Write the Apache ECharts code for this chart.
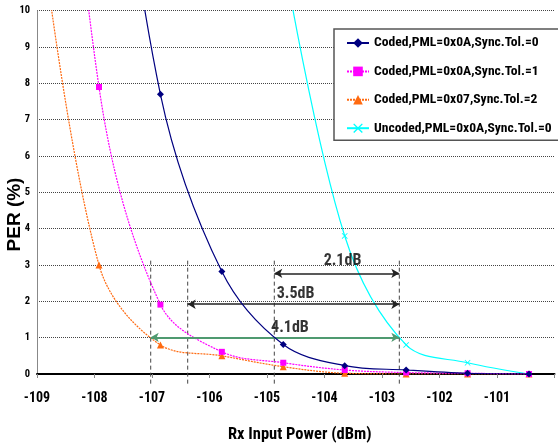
<!DOCTYPE html>
<html>
<head>
<meta charset="utf-8">
<script src="https://cdn.jsdelivr.net/npm/echarts@6/dist/echarts.min.js"></script>
<style>
html,body{margin:0;padding:0;background:#fff;}
#c{width:558px;height:446px;}
</style>
</head>
<body>
<div id="c"></div>
<script>
// ---- data ----
var rxPower = [-109, -108, -107, -106, -105, -104, -103, -102, -101];
var perCodedPml0ATol0 = [null, 19, 7.7, 2.82, 0.81, 0.23, 0.11, 0.02, 0.0];
var perCodedPml0ATol1 = [25, 7.9, 1.91, 0.61, 0.31, 0.11, 0.04, 0.02, 0.0];
var perCodedPml07Tol2 = [13, 3.0, 0.8, 0.5, 0.2, 0.02, 0.0, 0.0, 0.0];
var perUncodedPml0ATol0 = [null, null, null, null, 11.5, 3.8, 0.8, 0.31, 0.0];
var seriesNames = ['Coded,PML=0x0A,Sync.Tol.=0', 'Coded,PML=0x0A,Sync.Tol.=1', 'Coded,PML=0x07,Sync.Tol.=2', 'Uncoded,PML=0x0A,Sync.Tol.=0'];
var xTickLabels = ['-109', '-108', '-107', '-106', '-105', '-104', '-103', '-102', '-101'];
var yTickLabels = ['0', '1', '2', '3', '4', '5', '6', '7', '8', '9', '10'];
var xAxisTitle = 'Rx Input Power (dBm)';
var yAxisTitle = 'PER (%)';
// annotations (dB gaps at PER levels)
var gapLabels = ['2.1dB', '3.5dB', '4.1dB'];
var gapPerLevel = [2.77, 1.92, 1.01];
var gapFrom = [-105.146, -106.556, -107.158];
var gapTo = [-103.111, -103.111, -103.111];
var gapLabelX = [-104.036, -104.801, -104.891];
var gapLabelY = [3.12, 2.19, 1.26];
var guideX = [-107.158, -106.556, -105.146, -103.111];
var guideTop = 3.12, guideBottom = -0.3;

var FONT = '"Roboto Condensed", "DejaVu Sans Condensed", sans-serif';
var FONT2 = '"Liberation Sans", Arial, sans-serif';

function pairs(vals) {
  var out = [];
  for (var i = 0; i < rxPower.length; i++) {
    if (vals[i] !== null) out.push([rxPower[i], vals[i]]);
  }
  return out;
}

var colors = ['#000080', '#ff00ff', '#ff6a10', '#00ffff'];
var symbols = ['diamond', 'rect', 'triangle', 'path://M0,1L1,0L5,4L9,0L10,1L6,5L10,9L9,10L5,6L1,10L0,9L4,5Z'];
var symSizes = [7, 6, 7, 6];
var lineTypes = ['solid', [2, 1], [2, 1], 'solid'];
var allData = [perCodedPml0ATol0, perCodedPml0ATol1, perCodedPml07Tol2, perUncodedPml0ATol0];

var series = [];
for (var s = 0; s < 4; s++) {
  series.push({
    name: seriesNames[s],
    type: 'line',
    xAxisIndex: 1,
    yAxisIndex: 0,
    data: pairs(allData[s]),
    smooth: 0.35,
    symbol: symbols[s],
    symbolSize: symSizes[s],
    showAllSymbol: true,
    clip: true,
    z: 5 - s,
    lineStyle: { color: colors[s], width: 1.2, type: lineTypes[s] },
    itemStyle: { color: colors[s] }
  });
}
// vertical dashed guides
for (var g = 0; g < guideX.length; g++) {
  series.push({
    type: 'line', xAxisIndex: 1, yAxisIndex: 0, silent: true,
    data: [[guideX[g], guideTop], [guideX[g], guideBottom]],
    symbol: 'none', clip: false, z: 2,
    lineStyle: { color: '#444', width: 1, type: [4, 3] }
  });
}
// arrows
var arrowData = [];
for (var a = 0; a < gapLabels.length; a++) {
  var col = a === 2 ? '#4f9a70' : '#222';
  arrowData.push([
    { coord: [gapFrom[a], gapPerLevel[a]], lineStyle: { color: col, width: a === 2 ? 2 : 1.5, type: 'solid' }, itemStyle: { color: col } },
    { coord: [gapTo[a], gapPerLevel[a]] }
  ]);
}
var labelPts = [];
for (var b = 0; b < gapLabels.length; b++) labelPts.push({ value: [gapLabelX[b], gapLabelY[b]], name: gapLabels[b] });
series.push({
  type: 'scatter', xAxisIndex: 1, yAxisIndex: 0, silent: true,
  data: labelPts, symbolSize: 0, z: 10,
  label: { show: true, position: 'inside', formatter: function (p) { return p.name; },
    color: '#000', fontFamily: FONT, fontWeight: 'bold', fontSize: 16 },
  markLine: { silent: true, symbol: ['arrow', 'arrow'], symbolSize: [7, 8], label: { show: false },
    data: arrowData }
});

var chart = echarts.init(document.getElementById('c'), null, { renderer: 'canvas' });
chart.setOption({
  animation: false,
  backgroundColor: '#fff',
  grid: { left: 37, top: 10.7, width: 517.5, height: 363.3, containLabel: false, outerBoundsMode: 'none' },
  legend: {
    data: seriesNames,
    orient: 'vertical', left: 334, top: 29,
    padding: [7, 8, 5, 12], itemGap: 14.4, itemWidth: 22, itemHeight: 12,
    borderColor: '#555', borderWidth: 1.5, backgroundColor: '#fff',
    textStyle: { fontFamily: FONT, fontWeight: 'bold', fontSize: 13.6, color: '#000' }
  },
  graphic: [{
    type: 'text', x: 15, y: 214.5, rotation: Math.PI / 2, silent: true,
    style: { text: yAxisTitle, font: 'bold 19px ' + FONT2, fill: '#000', textAlign: 'center', textVerticalAlign: 'middle' }
  }],
  xAxis: [{
    type: 'value', min: -109, max: -100, interval: 1, gridIndex: 0,
    name: xAxisTitle, nameLocation: 'middle', nameGap: 52,
    nameTextStyle: { fontFamily: FONT, fontWeight: 'bold', fontSize: 16.5, color: '#000', padding: [0, 0, 0, 8] },
    axisLine: { show: true, onZero: false, lineStyle: { color: '#000', width: 2 } },
    axisTick: { show: true, length: 4, lineStyle: { color: '#888' } },
    axisLabel: { margin: 17, fontFamily: FONT, fontWeight: 'bold', fontSize: 14, color: '#000',
      formatter: function (v) { var i = Math.round(v + 109); return xTickLabels[i] || ''; } },
    splitLine: { show: false }
  }, {
    type: 'value', min: -109.009, max: -100.585, gridIndex: 0, show: false,
    splitLine: { show: false }
  }],
  yAxis: [{
    type: 'value', min: 0, max: 10, interval: 1,
    axisLine: { show: true, lineStyle: { color: '#888', width: 1 } },
    axisTick: { show: false },
    axisLabel: { margin: 7, fontFamily: FONT, fontWeight: 'bold', fontSize: 10.5, color: '#000',
      formatter: function (v) { return yTickLabels[Math.round(v)]; } },
    splitLine: { show: true, lineStyle: { color: '#444', width: 1, type: [1, 1] } }
  }],
  series: series
});
</script>
</body>
</html>
